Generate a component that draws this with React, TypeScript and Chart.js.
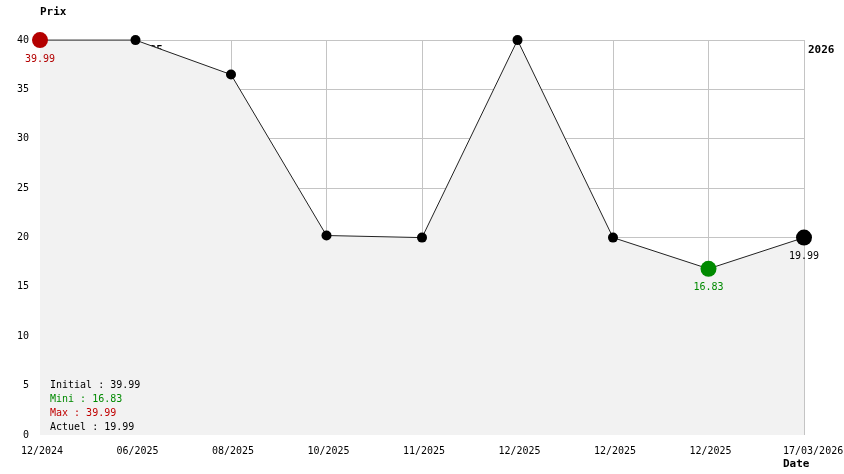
import React, { useEffect, useRef } from "react";
import { Chart, registerables } from "chart.js";

Chart.register(...registerables);

const dates = ["12/2024", "06/2025", "08/2025", "10/2025", "11/2025", "12/2025", "12/2025", "12/2025", "17/03/2026"];
const prices = [39.99, 39.99, 36.5, 20.2, 19.99, 39.99, 19.99, 16.83, 19.99];
const pointRadii = [8, 5, 5, 5, 5, 5, 5, 8, 8];
const pointColors = ["#b40000", "#000", "#000", "#000", "#000", "#000", "#000", "#008a00", "#000"];
const yTicks = [0, 5, 10, 15, 20, 25, 30, 35, 40];
const pointLabels = [
  { index: 0, text: "39.99", color: "#b40000" },
  { index: 7, text: "16.83", color: "#008a00" },
  { index: 8, text: "19.99", color: "#000" },
];
const summary = [
  { text: "Initial : 39.99", color: "#000" },
  { text: "Mini : 16.83", color: "#008a00" },
  { text: "Max : 39.99", color: "#c00000" },
  { text: "Actuel : 19.99", color: "#000" },
];
const yearLabels = [
  { index: 1, text: "2025", under: true },
  { index: 8, text: "2026", under: false },
];

const MONO = "'DejaVu Sans Mono', monospace";

export default function App() {
  const ref = useRef<HTMLCanvasElement | null>(null);
  useEffect(() => {
    const canvas = ref.current;
    if (!canvas) return;
    const decor = {
      id: "decor",
      beforeDatasetsDraw(chart: any) {
        const ctx = chart.ctx;
        const x = chart.scales.x;
        ctx.save();
        ctx.font = `bold 11px ${MONO}`;
        ctx.fillStyle = "#000";
        ctx.textBaseline = "middle";
        ctx.textAlign = "left";
        yearLabels.filter((l) => l.under).forEach((l) => {
          ctx.fillText(l.text, x.getPixelForValue(l.index) + 1, 50);
        });
        ctx.restore();
      },
      afterDatasetsDraw(chart: any) {
        const ctx = chart.ctx;
        const area = chart.chartArea;
        const x = chart.scales.x;
        const meta = chart.getDatasetMeta(0);
        ctx.save();
        ctx.textBaseline = "middle";
        ctx.font = `10px ${MONO}`;
        ctx.textAlign = "center";
        pointLabels.forEach((l) => {
          const p = meta.data[l.index];
          ctx.fillStyle = l.color;
          ctx.fillText(l.text, p.x, p.y + 19);
        });
        ctx.textAlign = "left";
        summary.forEach((s, i) => {
          ctx.fillStyle = s.color;
          ctx.fillText(s.text, area.left + 10, area.bottom - 50 + i * 14);
        });
        ctx.fillStyle = "#000";
        dates.forEach((d, i) => {
          const px = x.getPixelForValue(i);
          if (i === dates.length - 1) {
            ctx.textAlign = "left";
            ctx.fillText(d, px - 21, area.bottom + 16);
          } else {
            ctx.textAlign = "center";
            ctx.fillText(d, px + 2, area.bottom + 16);
          }
        });
        ctx.font = `bold 11px ${MONO}`;
        ctx.textAlign = "left";
        ctx.fillText("Prix", area.left, 12);
        ctx.fillText("Date", x.getPixelForValue(dates.length - 1) - 21, area.bottom + 29);
        yearLabels.filter((l) => !l.under).forEach((l) => {
          ctx.fillText(l.text, x.getPixelForValue(l.index) + 4, 50);
        });
        ctx.restore();
      },
    };
    const chart = new Chart(canvas, {
      type: "line",
      data: {
        labels: dates,
        datasets: [
          {
            data: prices,
            borderColor: "#222",
            borderWidth: 1,
            fill: "origin",
            backgroundColor: "#f2f2f2",
            pointRadius: pointRadii,
            pointHoverRadius: pointRadii,
            pointBackgroundColor: pointColors,
            pointBorderColor: pointColors,
            pointBorderWidth: 0,
            tension: 0,
            clip: false as any,
          },
        ],
      },
      options: {
        responsive: false,
        animation: false,
        events: [],
        layout: { padding: { top: 40, right: 40, left: 0, bottom: 0 } },
        plugins: { legend: { display: false }, tooltip: { enabled: false } },
        scales: {
          x: {
            type: "category",
            offset: false,
            grid: { color: "#c4c4c4", drawTicks: false },
            border: { display: false },
            ticks: { display: false },
            afterFit: (s: any) => {
              s.height = 39;
            },
          },
          y: {
            min: 0,
            max: 40,
            afterBuildTicks: (s: any) => {
              s.ticks = yTicks.map((v) => ({ value: v }));
            },
            grid: {
              color: (c: any) => (c.tick && c.tick.value === 0 ? "rgba(0,0,0,0)" : "#c4c4c4"),
              drawTicks: false,
            },
            border: { display: false },
            ticks: {
              padding: 11,
              color: "#000",
              font: { family: "DejaVu Sans Mono", size: 10 },
            },
            afterFit: (s: any) => {
              s.width = 40;
            },
          },
        },
      },
      plugins: [decor],
    });
    return () => chart.destroy();
  }, []);
  return (
    <div style={{ position: "fixed", left: 0, top: 0, width: 844, height: 474, background: "#fff" }}>
      <canvas ref={ref} width={844} height={474} />
    </div>
  );
}
